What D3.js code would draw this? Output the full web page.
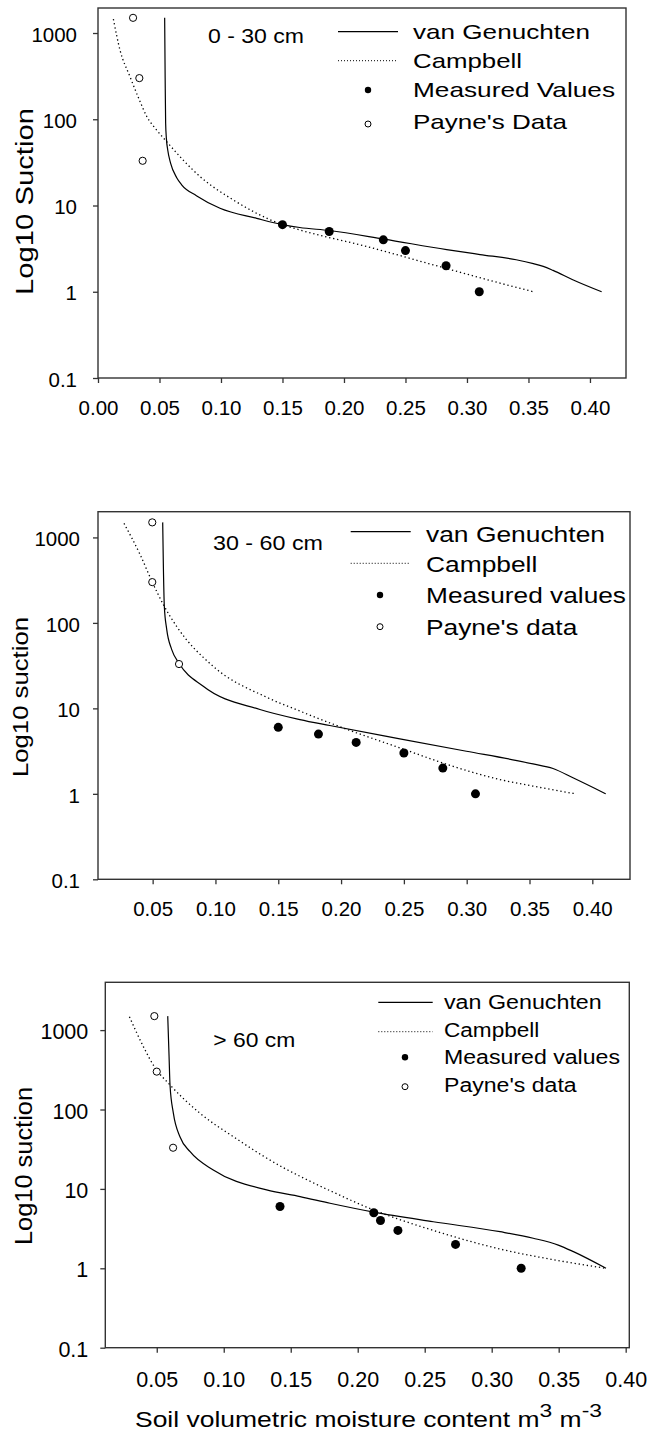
<!DOCTYPE html>
<html>
<head>
<meta charset="utf-8">
<script src="https://cdn.jsdelivr.net/npm/d3@7"></script>
<style>
  html, body { margin: 0; padding: 0; background: #fff; }
  svg { display: block; }
  text { font-family: "Liberation Sans", Arial, Helvetica, sans-serif; fill: #000; }
</style>
</head>
<body>
<svg id="chart" width="652" height="1435"></svg>
<script>
// ---------------- DATA ----------------
const yTickValues = [0.1, 1, 10, 100, 1000];
const yTickLabels = ["0.1", "1", "10", "100", "1000"];
const xTicksTop = [0.00, 0.05, 0.10, 0.15, 0.20, 0.25, 0.30, 0.35, 0.40];
const xTicksLower = [0.05, 0.10, 0.15, 0.20, 0.25, 0.30, 0.35, 0.40];

const depthLabels = ["0 - 30 cm", "30 - 60 cm", "> 60 cm"];
const legendLabelsTop = ["van Genuchten", "Campbell", "Measured Values", "Payne's Data"];
const legendLabelsLower = ["van Genuchten", "Campbell", "Measured values", "Payne's data"];
const yTitles = ["Log10 Suction", "Log10 suction", "Log10 suction"];
const xTitleMain = "Soil volumetric moisture content m";
const xTitleUnit1 = "3";
const xTitleUnit2 = " m";
const xTitleUnit3 = "-3";

// measured and Payne's suction levels (same in every panel)
const measuredSuction = [6, 5, 4, 3, 2, 1];
const payneSuction = [1500, 300, 33];

// Panel 1: 0 - 30 cm
const measuredTheta1 = [0.150, 0.188, 0.232, 0.250, 0.283, 0.310];
const payneTheta1 = [0.0285, 0.0336, 0.0363];
const vgTheta1 = [0.0542, 0.0546, 0.0550, 0.0556, 0.0567, 0.059, 0.064, 0.068, 0.080, 0.0992, 0.129, 0.150, 0.164, 0.188, 0.2325, 0.2835, 0.3106, 0.340, 0.354, 0.362, 0.370, 0.386, 0.4095];
const vgSuction1 = [1500, 300, 90, 60, 44, 31, 21, 17.4, 13, 9.3, 7.1, 6.0, 5.56, 5.13, 4.08, 3.08, 2.70, 2.35, 2.12, 1.97, 1.77, 1.38, 1.0];
const cbTheta1 = [0.0125, 0.0179, 0.026, 0.0336, 0.0396, 0.0477, 0.0558, 0.0829, 0.110, 0.150, 0.1642, 0.2184, 0.2726, 0.3268, 0.354];
const cbSuction1 = [1450, 633, 312, 168, 108, 75, 55, 21.7, 11.6, 6.0, 5.2, 3.35, 2.05, 1.26, 1.0];

// Panel 2: 30 - 60 cm
const measuredTheta2 = [0.150, 0.182, 0.212, 0.250, 0.281, 0.307];
const payneTheta2 = [0.0497, 0.0497, 0.071];
const vgTheta2 = [0.0580, 0.0585, 0.0593, 0.0612, 0.0652, 0.071, 0.0903, 0.1354, 0.1672, 0.191, 0.2468, 0.2998, 0.3400, 0.3528, 0.3687, 0.3846, 0.4107];
const vgSuction2 = [1500, 500, 156, 84, 48.7, 33.7, 18.1, 9.7, 7.4, 6.3, 4.4, 3.15, 2.45, 2.24, 1.98, 1.54, 1.0];
const cbTheta2 = [0.0272, 0.040, 0.0497, 0.0585, 0.0691, 0.0982, 0.1407, 0.1672, 0.199, 0.2505, 0.2808, 0.3263, 0.3528, 0.3868];
const cbSuction2 = [1460, 630, 300, 164, 91, 31, 13.5, 9.3, 6.1, 3.3, 2.3, 1.47, 1.23, 1.0];

// Panel 3: > 60 cm
const measuredTheta3 = [0.142, 0.212, 0.217, 0.230, 0.273, 0.322];
const payneTheta3 = [0.0482, 0.050, 0.0622];
const vgTheta3 = [0.0582, 0.0592, 0.0599, 0.0624, 0.0674, 0.0749, 0.0922, 0.132, 0.157, 0.1793, 0.212, 0.2564, 0.3062, 0.331, 0.3497, 0.361, 0.3853];
const vgSuction3 = [1500, 462, 204, 90, 45, 29.4, 17.3, 9.7, 8.0, 6.6, 5.1, 3.86, 2.89, 2.39, 1.96, 1.62, 1.0];
const cbTheta3 = [0.0296, 0.040, 0.0482, 0.0599, 0.0823, 0.1072, 0.1445, 0.157, 0.1793, 0.2122, 0.2564, 0.3062, 0.356, 0.3853];
const cbSuction3 = [1475, 620, 346, 204, 89.6, 45.4, 18.5, 14.4, 9.5, 5.4, 3.0, 1.75, 1.2, 1.0];

// ---------------- LAYOUT ----------------
const panels = [
  {
    frame: { left: 98, top: 8, right: 626, bottom: 378 },
    xDomain: [0, 0.4293], yDomain: [0.1, 1950],
    xTicks: xTicksTop, tickFont: 20.5, xLabelOffset: 37, yLabelGap: 16,
    depth: { text: depthLabels[0], x: 208, y: 43, w: 96, fs: 20 },
    legend: { labels: legendLabelsTop, textX: 413, lineX1: 338, lineX2: 398, markX: 368,
              baselines: [39, 68, 97, 129], widths: [177, 109, 202, 154], symY: [31.7, 60.7, 90, 124], fs: 21 },
    yTitle: { text: yTitles[0], x: 33, cy: 201.5, len: 187, fs: 23 },
    measured: measuredTheta1, payne: payneTheta1,
    vg: [vgTheta1, vgSuction1], cb: [cbTheta1, cbSuction1]
  },
  {
    frame: { left: 98, top: 511.7, right: 630, bottom: 879.3 },
    xDomain: [0.0065, 0.4300], yDomain: [0.1, 2000],
    xTicks: xTicksLower, tickFont: 20.5, xLabelOffset: 37, yLabelGap: 13,
    depth: { text: depthLabels[1], x: 213, y: 550, w: 110, fs: 19.5 },
    legend: { labels: legendLabelsLower, textX: 426, lineX1: 350.7, lineX2: 410.7, markX: 380,
              baselines: [541.7, 571.7, 603.3, 635], widths: [179, 111.3, 200, 151.3], symY: [531.7, 563.3, 595, 626.7], fs: 22 },
    yTitle: { text: yTitles[1], x: 28, cy: 697, len: 160, fs: 22 },
    measured: measuredTheta2, payne: payneTheta2,
    vg: [vgTheta2, vgSuction2], cb: [cbTheta2, cbSuction2]
  },
  {
    frame: { left: 105.3, top: 982.3, right: 629.3, bottom: 1347.7 },
    xDomain: [0.0116, 0.4027], yDomain: [0.1, 4000],
    xTicks: xTicksLower, tickFont: 21.5, xLabelOffset: 39, yLabelGap: 12,
    depth: { text: depthLabels[2], x: 213.3, y: 1047.3, w: 82, fs: 20 },
    legend: { labels: legendLabelsLower, textX: 444, lineX1: 378.3, lineX2: 432.7, markX: 405,
              baselines: [1009.3, 1036.7, 1064.3, 1091.7], widths: [157.7, 95.3, 176, 132.7], symY: [1002.3, 1031.7, 1057.3, 1086.7], fs: 20 },
    yTitle: { text: yTitles[2], x: 32, cy: 1166, len: 158, fs: 23 },
    measured: measuredTheta3, payne: payneTheta3,
    vg: [vgTheta3, vgSuction3], cb: [cbTheta3, cbSuction3]
  }
];

const svg = d3.select("#chart");
const frameColor = "#333";

panels.forEach((p, pi) => {
  const f = p.frame;
  const x = d3.scaleLinear().domain(p.xDomain).range([f.left, f.right]);
  const y = d3.scaleLog().domain(p.yDomain).range([f.bottom, f.top]);
  const g = svg.append("g");

  // frame
  g.append("rect")
    .attr("x", f.left).attr("y", f.top)
    .attr("width", f.right - f.left).attr("height", f.bottom - f.top)
    .attr("fill", "none").attr("stroke", frameColor).attr("stroke-width", 1.4);

  // y axis
  const yAxis = d3.axisLeft(y).tickValues(yTickValues)
    .tickFormat((d, i) => yTickLabels[i]).tickSize(5).tickPadding(p.yLabelGap);
  const ya = g.append("g").attr("transform", `translate(${f.left},0)`).call(yAxis);
  ya.select(".domain").remove();
  ya.selectAll(".tick line").attr("stroke", frameColor).attr("stroke-width", 1.3);
  ya.selectAll(".tick text").attr("font-size", p.tickFont)
    .attr("font-family", "Liberation Sans, Arial, sans-serif").attr("fill", "#000").attr("dy", "0.4em");

  // x axis
  const xAxis = d3.axisBottom(x).tickValues(p.xTicks)
    .tickFormat(d3.format(".2f")).tickSize(5).tickPadding(p.xLabelOffset - 5 - p.tickFont * 0.72);
  const xa = g.append("g").attr("transform", `translate(0,${f.bottom})`).call(xAxis);
  xa.select(".domain").remove();
  xa.selectAll(".tick line").attr("stroke", frameColor).attr("stroke-width", 1.3);
  xa.selectAll(".tick text").attr("font-size", p.tickFont)
    .attr("font-family", "Liberation Sans, Arial, sans-serif").attr("fill", "#000").attr("dy", "0.72em");

  // curves
  const line = d3.line().x(d => x(d[0])).y(d => y(d[1])).curve(d3.curveMonotoneX);
  const vgData = p.vg[0].map((t, i) => [t, p.vg[1][i]]);
  const cbData = p.cb[0].map((t, i) => [t, p.cb[1][i]]);
  g.append("path").datum(cbData).attr("d", line)
    .attr("fill", "none").attr("stroke", "#000").attr("stroke-width", 1.3)
    .attr("stroke-dasharray", "1.3 2.8");
  g.append("path").datum(vgData).attr("d", line)
    .attr("fill", "none").attr("stroke", "#000").attr("stroke-width", 1.2);

  // points
  g.selectAll(".meas").data(p.measured.map((t, i) => [t, measuredSuction[i]])).enter()
    .append("circle").attr("cx", d => x(d[0])).attr("cy", d => y(d[1])).attr("r", 4.5)
    .attr("fill", "#000");
  g.selectAll(".payne").data(p.payne.map((t, i) => [t, payneSuction[i]])).enter()
    .append("circle").attr("cx", d => x(d[0])).attr("cy", d => y(d[1])).attr("r", 3.6)
    .attr("fill", "#fff").attr("stroke", "#000").attr("stroke-width", 1);

  // depth label
  g.append("text").attr("x", p.depth.x).attr("y", p.depth.y)
    .attr("font-size", p.depth.fs).attr("textLength", p.depth.w)
    .attr("lengthAdjust", "spacingAndGlyphs").text(p.depth.text);

  // legend
  const L = p.legend;
  g.append("line").attr("x1", L.lineX1).attr("x2", L.lineX2).attr("y1", L.symY[0]).attr("y2", L.symY[0])
    .attr("stroke", "#000").attr("stroke-width", 1.2);
  g.append("line").attr("x1", L.lineX1).attr("x2", L.lineX2).attr("y1", L.symY[1]).attr("y2", L.symY[1])
    .attr("stroke", "#000").attr("stroke-width", 1).attr("stroke-dasharray", "1 2");
  g.append("circle").attr("cx", L.markX).attr("cy", L.symY[2]).attr("r", 3.2).attr("fill", "#000");
  g.append("circle").attr("cx", L.markX).attr("cy", L.symY[3]).attr("r", 3)
    .attr("fill", "#fff").attr("stroke", "#000").attr("stroke-width", 1);
  L.labels.forEach((lab, i) => {
    g.append("text").attr("x", L.textX).attr("y", L.baselines[i])
      .attr("font-size", L.fs).attr("textLength", L.widths[i])
      .attr("lengthAdjust", "spacingAndGlyphs").text(lab);
  });

  // y title
  const yt = p.yTitle;
  g.append("text")
    .attr("transform", `translate(${yt.x},${yt.cy}) rotate(-90)`)
    .attr("text-anchor", "middle").attr("font-size", yt.fs)
    .attr("textLength", yt.len).attr("lengthAdjust", "spacingAndGlyphs")
    .text(yt.text);
});

// x title (bottom)
const xt = svg.append("text").attr("x", 135).attr("y", 1427).attr("font-size", 22)
  .attr("textLength", 467).attr("lengthAdjust", "spacingAndGlyphs");
xt.append("tspan").text(xTitleMain);
xt.append("tspan").attr("dy", -10).attr("font-size", 19).text(xTitleUnit1);
xt.append("tspan").attr("dy", 10).text(xTitleUnit2);
xt.append("tspan").attr("dy", -10).attr("font-size", 19).text(xTitleUnit3);
</script>
</body>
</html>
